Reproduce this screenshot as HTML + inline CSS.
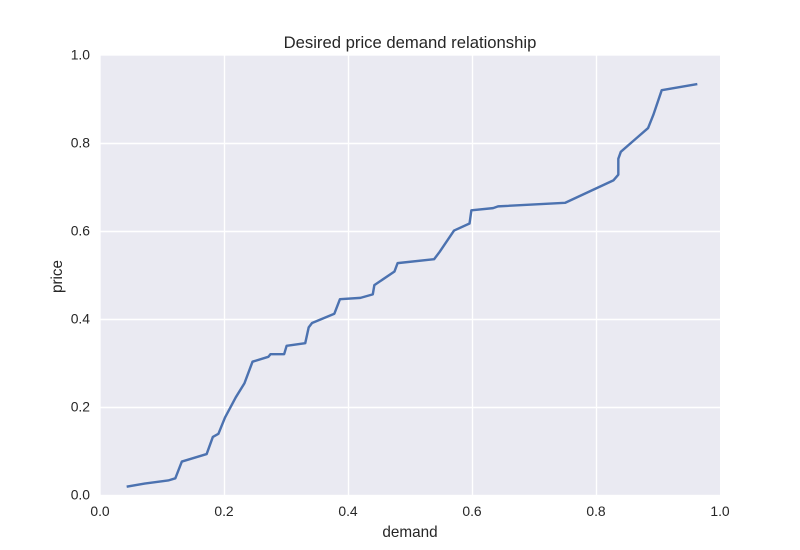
<!DOCTYPE html>
<html lang="en">
<head>
<meta charset="utf-8">
<title>Desired price demand relationship</title>
<style>
html,body{margin:0;padding:0;background:#fff;width:800px;height:550px;overflow:hidden}
svg{display:block}
text{font-family:"Liberation Sans",Arial,sans-serif;fill:#262626}
</style>
</head>
<body>
<svg id="chart" xmlns="http://www.w3.org/2000/svg" width="800" height="550" viewBox="0 0 800 550"></svg>
<script>
const demandValues = [0.043,0.072,0.110,0.1215,0.132,0.172,0.182,0.191,0.2016,0.219,0.233,0.246,0.2715,0.275,0.297,0.301,0.331,0.3366,0.342,0.378,0.387,0.420,0.440,0.4425,0.475,0.480,0.539,0.548,0.571,0.596,0.599,0.634,0.642,0.750,0.828,0.836,0.836,0.840,0.884,0.8925,0.906,0.9634];
const priceValues = [0.019,0.026,0.033,0.038,0.076,0.093,0.132,0.139,0.176,0.222,0.254,0.303,0.314,0.320,0.320,0.339,0.345,0.381,0.391,0.412,0.445,0.448,0.456,0.477,0.508,0.527,0.536,0.553,0.601,0.617,0.647,0.652,0.656,0.664,0.715,0.728,0.764,0.780,0.834,0.864,0.920,0.934];
const xTicks = [0,0.2,0.4,0.6,0.8,1];
const yTicks = [0,0.2,0.4,0.6,0.8,1];
const chartTitle = "Desired price demand relationship";
const xLabel = "demand";
const yLabel = "price";

const NS = "http://www.w3.org/2000/svg";
const svg = document.getElementById("chart");
const plot = {left:100, right:720, top:55, bottom:495};
const xScale = v => plot.left + v * (plot.right - plot.left);
const yScale = v => plot.bottom - v * (plot.bottom - plot.top);

function make(tag, attrs, text) {
  const el = document.createElementNS(NS, tag);
  for (const k in attrs) el.setAttribute(k, attrs[k]);
  if (text !== undefined) el.textContent = text;
  svg.appendChild(el);
  return el;
}

const bg = make("rect", {x:plot.left+0.7, y:plot.top+0.7, width:plot.right-plot.left-0.7, height:plot.bottom-plot.top-0.9, fill:"#EAEAF2"});



xTicks.forEach(t => {
  const x = xScale(t);
  if (t > 0 && t < 1) {
    const grid = make("line", {x1:x+0.5, x2:x+0.5, y1:plot.top, y2:plot.bottom, stroke:"#fff", "stroke-width":1.39});
    
    
  }
  const label = make("text", {x:x, y:plot.bottom+21, "text-anchor":"middle", "font-size":13.9}, t.toFixed(1));
  
  
});

yTicks.forEach(t => {
  const y = yScale(t);
  if (t > 0 && t < 1) {
    const grid = make("line", {x1:plot.left, x2:plot.right, y1:y+0.5, y2:y+0.5, stroke:"#fff", "stroke-width":1.39});
    
    
  }
  const label = make("text", {x:plot.left-10, y:y+4.5, "text-anchor":"end", "font-size":13.9}, t.toFixed(1));
  
  
});

const linePoints = demandValues.map((d,i) => xScale(d).toFixed(2) + "," + yScale(priceValues[i]).toFixed(2)).join(" ");
const series = make("polyline", {points:linePoints, fill:"none", stroke:"#4C72B0", "stroke-width":2.43, "stroke-linejoin":"round"});



const titleEl = make("text", {x:(plot.left+plot.right)/2, y:48, "text-anchor":"middle", "font-size":16.67}, chartTitle);



const xTitle = make("text", {x:(plot.left+plot.right)/2, y:537, "text-anchor":"middle", "font-size":15.28}, xLabel);



const yTitle = make("text", {x:0, y:0, transform:"translate(62 276.5) rotate(-90)", "text-anchor":"middle", "font-size":15.28}, yLabel);


</script>
</body>
</html>
